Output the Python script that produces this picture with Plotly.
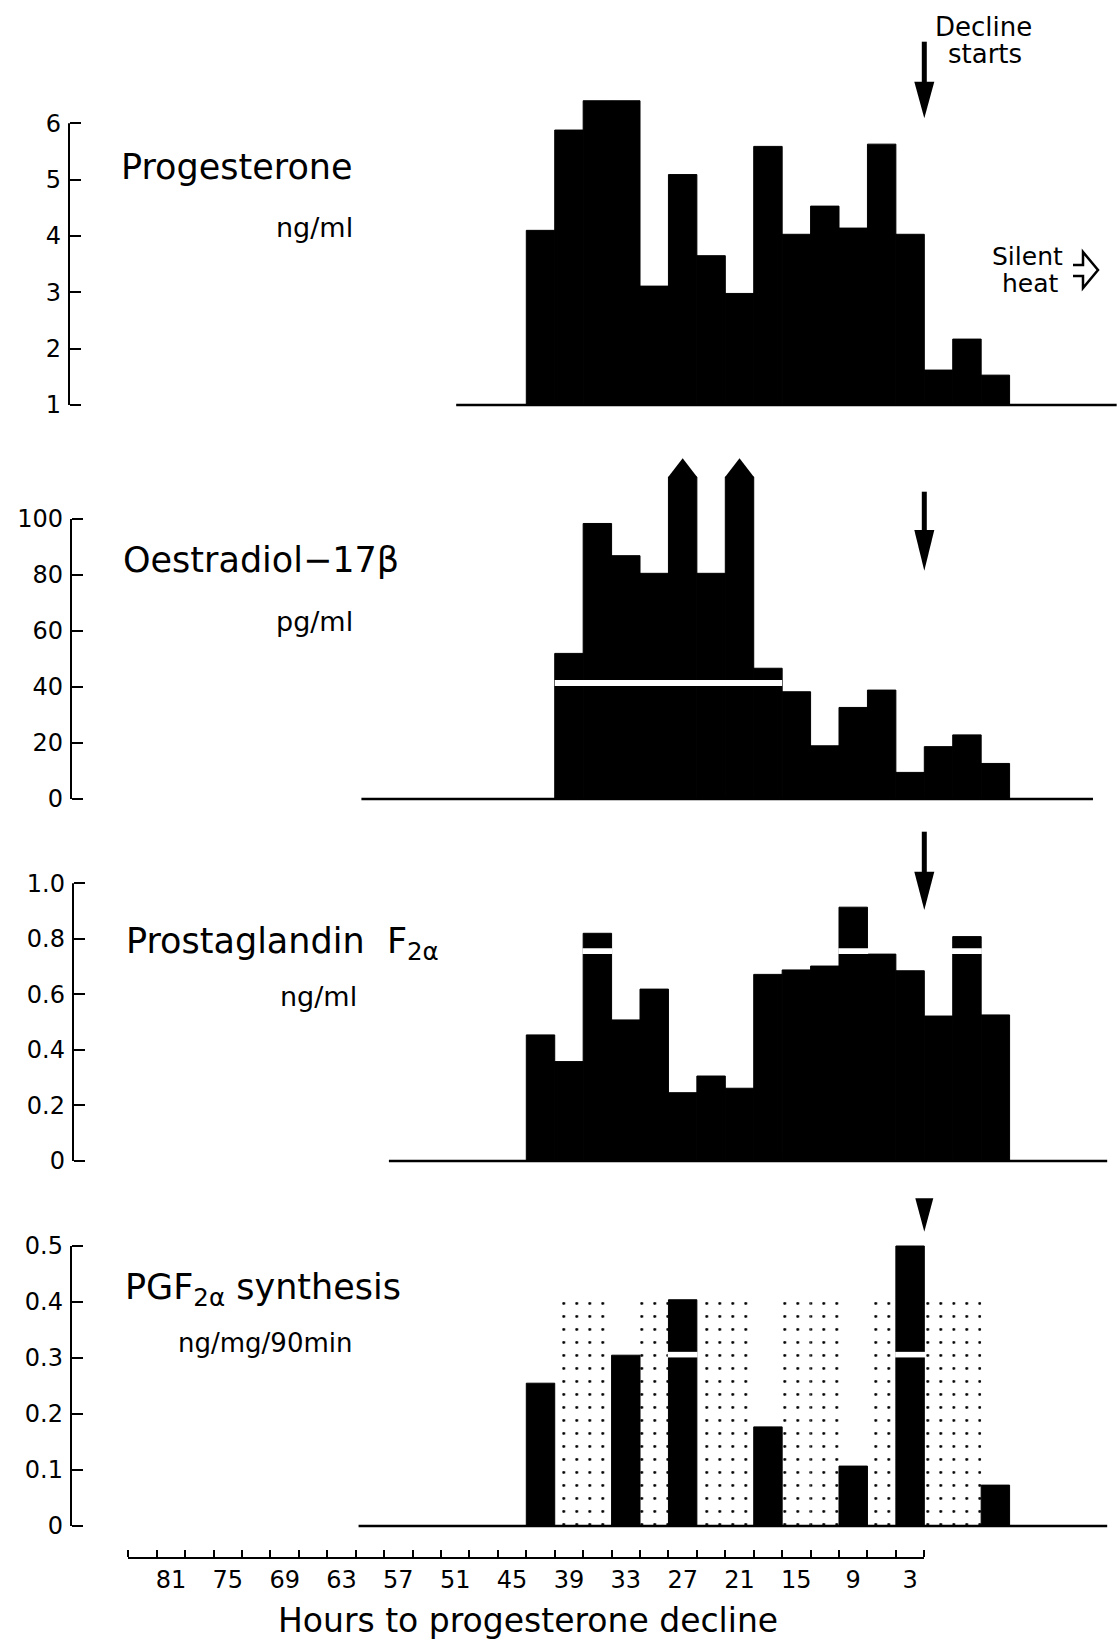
import plotly.graph_objects as go

W, H = 1120, 1644
FONT = "DejaVu Sans"

# ---------------- data ----------------
# centres of the 3-hour sampling bins, hours before progesterone decline
bin_hours = [40.5, 37.5, 34.5, 31.5, 28.5, 25.5, 22.5, 19.5, 16.5, 13.5,
             10.5, 7.5, 4.5, 1.5, -1.5, -4.5, -7.5]

progesterone = [4.10, 5.88, 6.40, 6.40, 3.11, 5.09, 3.65, 2.98, 5.59, 4.03,
                4.53, 4.14, 5.63, 4.03, 1.62, 2.17, 1.53]          # ng/ml
prog_baseline = [49.4, -20.3]

oest_hours = [37.5, 34.5, 31.5, 28.5, 25.5, 22.5, 19.5, 16.5, 13.5, 10.5,
              7.5, 4.5, 1.5, -1.5, -4.5, -7.5]
oestradiol = [52.0, 98.4, 86.9, 80.6, 115.0, 80.6, 115.0, 46.7, 38.3, 19.0,
              32.7, 38.9, 9.5, 18.7, 22.9, 12.7]                      # pg/ml
oest_offscale_hours = [25.5, 19.5]
oest_break_level = 41.4
oest_break_span = [39, 15]
oest_baseline = [59.4, -17.8]

pgf = [0.454, 0.358, 0.820, 0.508, 0.619, 0.246, 0.306, 0.262, 0.672, 0.688,
       0.702, 0.914, 0.745, 0.685, 0.522, 0.808, 0.526]              # ng/ml
pgf_break_hours = [34.5, 7.5, -4.5]
pgf_break_band = [0.745, 0.766]
pgf_baseline = [56.5, -19.3]

synth_hours = [40.5, 31.5, 25.5, 16.5, 7.5, 1.5, -7.5]
synthesis = [0.255, 0.305, 0.404, 0.177, 0.107, 0.500, 0.073]      # ng/mg/90min
synth_break_hours = [25.5, 1.5]
synth_break_band = [0.301, 0.311]
stipple_hours = [37.5, 34.5, 28.5, 22.5, 19.5, 13.5, 10.5, 4.5, -1.5, -4.5]
stipple_level = 0.40
synth_baseline = [59.7, -19.3]

decline_hour = 0
x_tick_labels = [81, 75, 69, 63, 57, 51, 45, 39, 33, 27, 21, 15, 9, 3]
x_minor_ticks = list(range(0, 85, 3))

prog_ticks = [1, 2, 3, 4, 5, 6]
oest_ticks = [0, 20, 40, 60, 80, 100]
pgf_ticks = [0, 0.2, 0.4, 0.6, 0.8, 1.0]
pgf_ticktext = ["0", "0.2", "0.4", "0.6", "0.8", "1.0"]
synth_ticks = [0, 0.1, 0.2, 0.3, 0.4, 0.5]
synth_ticktext = ["0", "0.1", "0.2", "0.3", "0.4", "0.5"]

# ---------------- layout geometry (pixels) ----------------
def py(p):
    return 1 - p / H

def pxp(p):
    return p / W

X_LEFT_PX, X_ZERO_PX, X_MAX_H = 128.3, 924.3, 84
PX_PER_H = (X_ZERO_PX - X_LEFT_PX) / X_MAX_H
X_RIGHT_H = X_MAX_H - (W - X_LEFT_PX) / PX_PER_H

panels = [
    dict(ax="y", dom=(90, 415), cal=((405, 1), (123.3, 6)), xpos=69,
         ticks=prog_ticks, text=[str(t) for t in prog_ticks]),
    dict(ax="y2", dom=(440, 810), cal=((799, 0), (519, 100)), xpos=71,
         ticks=oest_ticks, text=[str(t) for t in oest_ticks]),
    dict(ax="y3", dom=(865, 1172), cal=((1161, 0), (883.3, 1.0)), xpos=73,
         ticks=pgf_ticks, text=pgf_ticktext),
    dict(ax="y4", dom=(1232, 1537), cal=((1526, 0), (1246, 0.5)), xpos=71,
         ticks=synth_ticks, text=synth_ticktext),
]

def units_per_px(p):
    (p0, v0), (p1, v1) = p["cal"]
    return (v1 - v0) / (p0 - p1)

def yrange(p):
    (p0, v0), _ = p["cal"]
    k = units_per_px(p)
    top, bottom = p["dom"]
    return [v0 + (p0 - bottom) * k, v0 + (p0 - top) * k]

fig = go.Figure()
BLACK = dict(color="black", line=dict(color="black", width=1))

def baseline(xs, level, yax):
    fig.add_trace(go.Scatter(x=xs, y=[level, level], mode="lines",
                             line=dict(color="black", width=2.5),
                             xaxis="x", yaxis=yax, hoverinfo="skip"))

# Panel 1: progesterone (bars rise from 1)
baseline(prog_baseline, 1, "y")
fig.add_trace(go.Bar(x=bin_hours, y=[v - 1 for v in progesterone], base=1,
                     width=3, marker=BLACK, xaxis="x", yaxis="y"))

# Panel 2: oestradiol
baseline(oest_baseline, 0, "y2")
fig.add_trace(go.Bar(x=oest_hours, y=oestradiol, width=3, marker=BLACK,
                     xaxis="x", yaxis="y2"))
fig.add_trace(go.Scatter(x=oest_break_span, y=[oest_break_level] * 2,
                         mode="lines", line=dict(color="white", width=6),
                         xaxis="x", yaxis="y2", hoverinfo="skip"))
head_off = 6.25 * units_per_px(panels[1])
fig.add_trace(go.Scatter(
    x=oest_offscale_hours,
    y=[oestradiol[oest_hours.index(h)] + head_off for h in oest_offscale_hours],
    mode="markers", marker=dict(symbol="triangle-up", size=25, color="black",
                                line=dict(width=0)),
    xaxis="x", yaxis="y2", hoverinfo="skip"))

# Panel 3: prostaglandin F2a
baseline(pgf_baseline, 0, "y3")
fig.add_trace(go.Bar(x=bin_hours, y=pgf, width=3, marker=BLACK,
                     xaxis="x", yaxis="y3"))
fig.add_trace(go.Bar(x=pgf_break_hours,
                     y=[pgf_break_band[1] - pgf_break_band[0]] * len(pgf_break_hours),
                     base=pgf_break_band[0], width=3.15,
                     marker=dict(color="white", line=dict(width=0)),
                     xaxis="x", yaxis="y3"))

# Panel 4: PGF2a synthesis
fig.add_trace(go.Bar(x=stipple_hours, y=[stipple_level] * len(stipple_hours),
                     width=3,
                     marker=dict(color="white", line=dict(width=0),
                                 pattern=dict(shape=".", fgcolor="black",
                                              bgcolor="white", size=13,
                                              solidity=0.04)),
                     xaxis="x", yaxis="y4"))
baseline(synth_baseline, 0, "y4")
fig.add_trace(go.Bar(x=synth_hours, y=synthesis, width=3, marker=BLACK,
                     xaxis="x", yaxis="y4"))
fig.add_trace(go.Bar(x=synth_break_hours,
                     y=[synth_break_band[1] - synth_break_band[0]] * len(synth_break_hours),
                     base=synth_break_band[0], width=3.15,
                     marker=dict(color="white", line=dict(width=0)),
                     xaxis="x", yaxis="y4"))

# dummy trace for the hour axis
fig.add_trace(go.Scatter(x=[X_MAX_H, 0], y=[None, None], mode="lines",
                         xaxis="x2", yaxis="y5", showlegend=False,
                         hoverinfo="skip"))

layout = dict(
    width=W, height=H, margin=dict(l=0, r=0, t=0, b=0),
    paper_bgcolor="white", plot_bgcolor="white", template="none",
    showlegend=False, barmode="overlay",
    font=dict(family=FONT, color="black"),
    xaxis=dict(domain=[pxp(X_LEFT_PX), 1], range=[X_MAX_H, X_RIGHT_H],
               visible=False, anchor="y4"),
    xaxis2=dict(domain=[pxp(X_LEFT_PX), pxp(X_ZERO_PX)], range=[X_MAX_H, 0],
                anchor="y5", showline=True, linewidth=2, linecolor="black",
                showgrid=False, zeroline=False,
                tickmode="array", tickvals=[v - 1.5 for v in x_tick_labels],
                ticktext=[str(v) for v in x_tick_labels],
                ticks="outside", ticklen=0, tickfont=dict(size=24, family=FONT),
                ticklabelstandoff=0,
                minor=dict(tickmode="array", tickvals=x_minor_ticks,
                           ticks="inside", ticklen=7, tickwidth=1.5,
                           tickcolor="black", showgrid=False)),
    yaxis5=dict(domain=[py(1556.7), py(1540)], visible=False, anchor="x2",
                range=[0, 1]),
)
for p in panels:
    key = "yaxis" if p["ax"] == "y" else "yaxis" + p["ax"][1:]
    layout[key] = dict(
        domain=[py(p["dom"][1]), py(p["dom"][0])], range=yrange(p),
        anchor="free", position=pxp(p["xpos"]), side="left",
        showline=False, showgrid=False, zeroline=False,
        tickmode="array", tickvals=p["ticks"], ticktext=p["text"],
        ticks="inside", ticklen=11, tickwidth=2, tickcolor="black",
        tickfont=dict(size=24, family=FONT), ticklabelstandoff=8)
fig.update_layout(**layout)

shapes = []
for p in panels:
    shapes.append(dict(type="line", xref="paper", yref=p["ax"],
                       x0=pxp(p["xpos"]), x1=pxp(p["xpos"]),
                       y0=min(p["ticks"]), y1=max(p["ticks"]),
                       line=dict(color="black", width=2)))

hw = 10 / PX_PER_H
def decline_arrow(shaft_top, head_top, tip, half=hw):
    if shaft_top is not None:
        shapes.append(dict(type="line", xref="x", yref="paper",
                           x0=decline_hour, x1=decline_hour,
                           y0=py(shaft_top), y1=py(head_top + 3),
                           line=dict(color="black", width=5)))
    shapes.append(dict(type="path", xref="x", yref="paper",
                       path=f"M {decline_hour - half},{py(head_top)} "
                            f"L {decline_hour + half},{py(head_top)} "
                            f"L {decline_hour},{py(tip)} Z",
                       fillcolor="black", line=dict(width=0)))

decline_arrow(41.7, 81.7, 118.3)
decline_arrow(491.7, 530, 570.7)
decline_arrow(831.7, 871.7, 910)
decline_arrow(None, 1198.3, 1231.7, half=9 / PX_PER_H)

hook = [(1073, 265), (1083, 265), (1083, 252), (1098, 270), (1083, 288),
        (1083, 276), (1073, 276)]
shapes.append(dict(type="path", xref="paper", yref="paper",
                   path="M " + " L ".join(f"{pxp(a)},{py(b)}" for a, b in hook),
                   line=dict(color="black", width=2.5)))
fig.update_layout(shapes=shapes)

def note(text, x, y, size, xanchor="left"):
    fig.add_annotation(text=text, x=pxp(x), y=py(y), xref="paper", yref="paper",
                       xanchor=xanchor, yanchor="middle", showarrow=False,
                       font=dict(size=size, family=FONT, color="black"))

nb = "\u00a0"
note("Progesterone", 119, 167, 35)
note("ng/ml", 355, 228, 27, "right")
note("Oestradiol\u221217\u03b2", 121, 560, 35)
note("pg/ml", 355, 621, 27, "right")
note("Prostaglandin" + nb * 2 + "F<sub>2\u03b1</sub>", 124, 944, 35)
note("ng/ml", 359, 997, 27, "right")
note("PGF<sub>2\u03b1</sub> synthesis", 123, 1289, 35)
note("ng/mg/90min", 176, 1343, 26)
note("Decline", 983, 27, 26, "center")
note("starts", 985, 54, 26, "center")
note("Silent", 1027, 256, 25, "center")
note("heat", 1030, 283, 25, "center")
note("Hours to progesterone decline", 528, 1620, 33, "center")

fig.write_html("out.html")
